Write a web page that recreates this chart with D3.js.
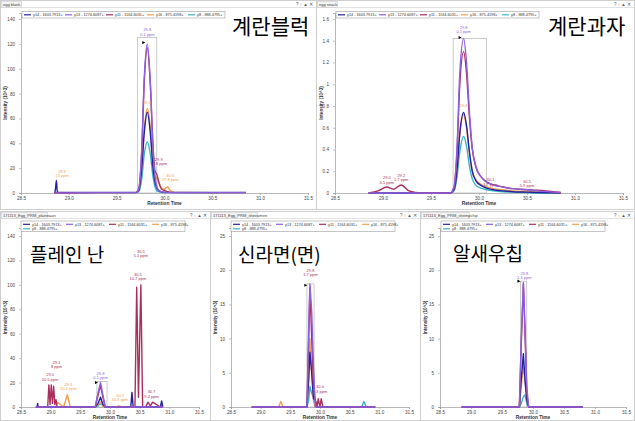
<!DOCTYPE html>
<html>
<head>
<meta charset="utf-8">
<script src="https://cdn.jsdelivr.net/npm/d3@7"></script>
<style>
  body { margin: 0; background: #fff; }
  svg { display: block; font-family: "Liberation Sans", Arial, sans-serif; }
</style>
</head>
<body>
<svg id="chart" width="635" height="421"></svg>
<script>
// transitions (precursor -> fragment ions) shown in every panel
const seriesNames = ['y14 - 1603.7913+', 'y13 - 1274.6087+', 'y11 - 1164.6031+', 'y16 - 875.4198+', 'y8 - 888.4795+'];
const seriesColors = ['#23229c', '#8b5fe0', '#a92f5c', '#f2a04e', '#3bb3c9'];
const xTicks = [28.5, 29.0, 29.5, 30.0, 30.5, 31.0, 31.5];

// 계란블럭 (egg blank)
const blankRt  = [28.85, 28.86, 28.87, 28.88, 28.9, 29.3, 29.7, 29.73, 29.76, 29.79, 29.82, 29.85, 29.88, 29.9, 29.92, 29.94, 29.97, 30.0, 30.03, 30.06, 30.1, 30.5, 30.85];
const blankY14 = [0, 3, 10, 1, 0.5, 0.5, 0.5, 2, 18, 50, 65, 50, 20, 9, 4, 2, 1, 0.5, 0.5, 0.5, 0.5, 0.5, 0.5];
const blankY13 = [0, 0, 0, 0, 0, 0.3, 0.3, 3, 32, 95, 120, 92, 36, 14, 5, 2, 1, 0.5, 0.3, 0.3, 0.3, 0.3, 0.3];
const blankY11 = [0, 0, 0, 0, 0, 0.3, 0.3, 3, 30, 92, 117, 90, 38, 18, 15, 9, 3, 2, 1, 0.5, 0.3, 0.3, 0.3];
const blankY16 = [0, 0, 0, 0, 0, 0.3, 0.3, 2, 18, 52, 68, 54, 24, 14, 12, 8, 4, 3, 5, 2, 0.5, 0.3, 0.3];
const blankY8  = [0, 0, 0, 0, 0, 0.2, 0.2, 1, 10, 32, 41, 32, 13, 5, 2, 1, 0.5, 0.3, 0.3, 0.3, 0.3, 0.2, 0.2];
const blankYTicks = [0, 20, 40, 60, 80, 100, 120, 140];

// 계란과자 (egg snack)
const snackRt  = [28.85, 28.95, 29.04, 29.11, 29.19, 29.27, 29.4, 29.7, 29.74, 29.77, 29.8, 29.84, 29.87, 29.9, 29.93, 29.97, 30.02, 30.08, 30.15, 30.25, 30.35, 30.5, 30.6, 30.85];
const snackY14 = [0, 0, 0, 0, 0, 0, 0, 0, 0.03, 0.2, 0.55, 0.74, 0.62, 0.38, 0.2, 0.11, 0.07, 0.045, 0.03, 0.02, 0.012, 0.008, 0.005, 0];
const snackY13 = [0, 0, 0, 0, 0, 0, 0, 0, 0.06, 0.4, 1.1, 1.42, 1.2, 0.75, 0.42, 0.24, 0.15, 0.1, 0.075, 0.055, 0.04, 0.03, 0.02, 0.005];
const snackY11 = [0, 0.02, 0.055, 0.035, 0.074, 0.02, 0, 0, 0.05, 0.36, 1.0, 1.3, 1.1, 0.7, 0.4, 0.23, 0.15, 0.1, 0.075, 0.055, 0.04, 0.03, 0.025, 0.005];
const snackY16 = [0, 0, 0, 0, 0, 0, 0, 0, 0.03, 0.2, 0.54, 0.72, 0.6, 0.37, 0.2, 0.12, 0.08, 0.055, 0.04, 0.03, 0.02, 0.015, 0.01, 0];
const snackY8  = [0, 0, 0, 0, 0, 0, 0, 0, 0.02, 0.14, 0.38, 0.52, 0.43, 0.25, 0.13, 0.07, 0.045, 0.03, 0.02, 0.012, 0.008, 0.005, 0, 0];
const snackYTicks = [0, 0.2, 0.4, 0.6, 0.8, 1, 1.2, 1.4, 1.6];

// 플레인 난 (plain naan)
const naanRt  = [28.75, 28.77, 28.78, 28.79, 28.95, 28.97, 28.99, 29.01, 29.03, 29.05, 29.07, 29.09, 29.11, 29.22, 29.28, 29.33, 29.75, 29.8, 29.84, 29.88, 29.92, 30.1, 30.15, 30.2, 30.35, 30.37, 30.39, 30.42, 30.45, 30.48, 30.5, 30.52, 30.55, 30.6, 30.64, 30.68, 30.72, 30.85, 30.87, 30.89];
const naanY14 = [0, 0, 3, 0, 0, 0, 0, 0, 0, 0, 0, 0, 0, 0, 0, 0, 0, 3, 8, 2, 0, 0, 0, 0, 0, 12, 0, 0, 0, 0, 0, 0, 0, 0, 0, 0, 0, 0, 5, 0];
const naanY13 = [0, 0, 0, 0, 0, 0, 0, 0, 0, 0, 0, 0, 0, 0, 0, 0, 0, 12, 20, 10, 0, 0, 0, 0, 0, 0, 0, 0, 0, 0, 0, 0, 0, 0, 0, 0, 0, 0, 0, 0];
const naanY11 = [0, 0, 0, 0, 0, 18, 2, 18, 3, 17, 2, 6, 0, 0, 0, 0, 0, 10, 18, 8, 0, 0, 0, 0, 0, 0, 0, 0, 98, 8, 55, 100, 0, 0, 4, 1, 4, 0, 0, 0];
const naanY16 = [0, 0, 0, 0, 0, 0, 0, 0, 0, 0, 0, 0, 4, 0, 10, 0, 0, 2, 4, 1, 0, 0, 1, 0, 0, 0, 0, 0, 0, 0, 0, 0, 0, 0, 0, 0, 0, 0, 0, 0];
const naanY8  = [0, 0, 0, 0, 0, 0, 0, 0, 0, 0, 0, 0, 0, 0, 0, 0, 0, 1, 3, 1, 0, 0, 0, 0, 0, 0, 0, 0, 0, 0, 0, 0, 0, 0, 0, 0, 0, 0, 0, 0];

// 신라면(면) (ramen noodle)
const ramenRt  = [28.85, 29.3, 29.34, 29.38, 29.75, 29.78, 29.81, 29.83, 29.86, 29.89, 29.92, 29.95, 29.97, 30.0, 30.02, 30.05, 30.7, 30.74, 30.78, 30.93];
const ramenY14 = [0, 0, 0, 0, 0, 0, 4, 8, 5, 1.2, 1, 0, 0, 0, 0, 0, 0, 0, 0, 0];
const ramenY13 = [0, 0, 0, 0, 0, 0, 12, 18, 14, 6, 0, 0, 0, 0, 0, 0, 0, 0, 0, 0];
const ramenY11 = [0, 0, 0, 0, 0, 0, 10, 17.5, 10, 3, 1, 0, 1.2, 0, 1.2, 0, 0, 0, 0, 0];
const ramenY16 = [0, 0, 0.8, 0, 0, 0, 6, 10, 5, 1, 0, 0, 0, 0, 0, 0, 0, 0, 0, 0];
const ramenY8  = [0, 0, 0, 0, 0, 0, 1, 3, 2, 1.5, 0.5, 0, 0, 0, 0, 0, 0, 0.8, 0, 0];

// 알새우칩 (shrimp chip)
const chipsRt  = [28.85, 29.78, 29.81, 29.845, 29.87, 29.9, 29.93, 30.8];
const chipsY14 = [0, 0, 4, 7.8, 4, 1, 0, 0];
const chipsY13 = [0, 0, 10, 18.2, 12, 3, 0, 0];
const chipsY11 = [0, 0, 9, 18, 11, 2, 0, 0];
const chipsY16 = [0, 0, 3, 6, 4, 1, 0, 0];
const chipsY8  = [0, 0, 0.5, 1.5, 1.8, 0.5, 0, 0];
const smallYTicks = [0, 5, 10, 15, 20, 25];

// peak labels: [rt, intensity, line1, line2, series index]
const blankNotes = [[29.82, 126, '29.8', '0.1 ppm', 1], [29.82, 71, '29.8', '', 3], [29.94, 22, '29.9', '15.6 ppm', 2], [30.06, 9, '30.0', '17.8 ppm', 3], [28.93, 12, '28.9', '13 ppm', 3]];
const snackNotes = [[29.84, 1.46, '29.8', '0.1 ppm', 1], [29.84, 0.78, '29.8', '', 3], [29.04, 0.08, '29.0', '4.5 ppm', 2], [29.19, 0.1, '29.2', '1.7 ppm', 2], [30.12, 0.06, '30.1', '3.7 ppm', 2], [30.5, 0.05, '30.5', '5.9 ppm', 2]];
const naanNotes = [[29.84, 22, '29.8', '0.1 ppm', 1], [28.99, 21, '29.0', '10.5 ppm', 2], [29.1, 31, '29.1', '8 ppm', 2], [29.3, 13, '29.3', '10.1 ppm', 3], [30.17, 4, '30.2', '10.9 ppm', 3], [30.47, 103, '30.5', '10.7 ppm', 2], [30.52, 122, '30.5', '5.1 ppm', 2], [30.7, 7, '30.7', '9.4 ppm', 2]];
const ramenNotes = [[29.84, 19, '29.8', '1.7 ppm', 2], [30.0, 2, '30.0', '3.3 ppm', 2]];
const chipsNotes = [[29.86, 18.6, '29.8', '1.1 ppm', 1]];

const svg = d3.select('#chart');

const drawPanel = (p) => {
  const g = svg.append('g');

  // window frame + title bar
  g.append('rect')
    .attr('x', p.fx + 0.5).attr('y', p.fy + 0.5)
    .attr('width', p.fw - 1).attr('height', p.fh - 1)
    .attr('fill', '#fff').attr('stroke', '#cfcfcf');
  g.append('line')
    .attr('x1', p.fx + 1).attr('x2', p.fx + p.fw - 1)
    .attr('y1', p.fy + 7.5).attr('y2', p.fy + 7.5)
    .attr('stroke', '#e2e2e2');
  g.append('rect')
    .attr('x', p.fx + 1.5).attr('y', p.fy + 1.5)
    .attr('width', p.tabW).attr('height', 6)
    .attr('fill', '#f4f4f4').attr('stroke', '#c4c4c4').attr('stroke-width', 0.5);
  g.append('text')
    .attr('x', p.fx + 3).attr('y', p.fy + 6)
    .attr('font-size', 4).attr('fill', '#444')
    .text(p.tab);
  g.append('text')
    .attr('x', p.fx + p.fw - 4).attr('y', p.fy + 6)
    .attr('text-anchor', 'end')
    .attr('font-size', 4.5).attr('fill', '#555')
    .text('? \u2191 \u25B2 \u2715');

  const x = d3.scaleLinear().domain([28.5, 31.5]).range([p.x0, p.x1]);
  const y = d3.scaleLinear().domain([0, p.yTicks[p.yTicks.length - 1]]).range([p.y0, p.y1]);
  y.domain([0, y.invert(p.top)]).range([p.y0, p.top]);

  // axes
  const xAxis = g.append('g')
    .attr('transform', `translate(0,${p.y0})`)
    .call(d3.axisBottom(x).tickValues(xTicks).tickFormat(d3.format('.1f')).tickSize(2).tickPadding(1.5));
  const yAxis = g.append('g')
    .attr('transform', `translate(${p.x0},0)`)
    .call(d3.axisLeft(y).tickValues(p.yTicks).tickFormat(d => d).tickSize(2).tickPadding(4));
  [xAxis, yAxis].forEach(a => {
    a.select('.domain').attr('stroke', '#9a9a9a').attr('stroke-width', 0.7);
    a.selectAll('.tick line').attr('stroke', '#9a9a9a').attr('stroke-width', 0.6);
    a.selectAll('.tick text').attr('font-size', 4.6).attr('fill', '#444').attr('font-family', '"Liberation Sans", Arial, sans-serif');
  });

  g.append('text')
    .attr('x', (p.x0 + p.x1) / 2).attr('y', p.y0 + 12)
    .attr('text-anchor', 'middle')
    .attr('font-size', 4.8).attr('font-weight', 'bold').attr('fill', '#333')
    .text('Retention Time');
  g.append('text')
    .attr('transform', `translate(${p.fx + 7},${(p.y0 + p.top) / 2}) rotate(-90)`)
    .attr('text-anchor', 'middle')
    .attr('font-size', 4.6).attr('font-weight', 'bold').attr('fill', '#333')
    .text('Intensity (10^3)');

  // integration window
  g.append('rect')
    .attr('x', x(p.box[0])).attr('y', y(p.box[2]))
    .attr('width', x(p.box[1]) - x(p.box[0]))
    .attr('height', y(0) - y(p.box[2]))
    .attr('fill', 'none').attr('stroke', '#a8a8a8').attr('stroke-width', 0.6);

  // traces, drawn teal first and violet last
  const line = d3.line()
    .x(d => x(d[0]))
    .y(d => y(d[1]))
    .curve(p.curve);
  [4, 3, 0, 2, 1].forEach(k => {
    g.append('path')
      .datum(d3.zip(p.rt, p.series[k]))
      .attr('d', line)
      .attr('fill', 'none')
      .attr('stroke', seriesColors[k])
      .attr('stroke-width', p.lw)
      .attr('stroke-linejoin', 'round');
  });

  // apex marker
  g.append('path')
    .attr('d', `M${x(p.marker[0]) - 5},${y(p.marker[1]) - 1.6}l3,1.6l-3,1.6z`)
    .attr('fill', '#000');

  // peak labels
  p.notes.forEach(n => {
    const t = g.append('text')
      .attr('x', x(n[0])).attr('y', y(n[1]) - (n[3] ? 5 : 1))
      .attr('text-anchor', 'middle')
      .attr('font-size', 4).attr('fill', seriesColors[n[4]]);
    t.append('tspan').text(n[2]);
    if (n[3]) t.append('tspan').attr('x', x(n[0])).attr('dy', 4.2).text(n[3]);
  });

  // legend
  const lg = g.append('g').attr('transform', `translate(${p.lx},${p.ly})`);
  lg.append('rect')
    .attr('width', p.lw2).attr('height', p.legendRows === 1 ? 6.5 : 10.5)
    .attr('fill', '#fff').attr('stroke', '#8a8a8a').attr('stroke-width', 0.5);
  seriesNames.forEach((name, k) => {
    const col = k % p.perRow;
    const row = Math.floor(k / p.perRow);
    const item = lg.append('g').attr('transform', `translate(${2 + col * p.step},${3.3 + row * 4.5})`);
    item.append('line').attr('x1', 0).attr('x2', 7).attr('stroke', seriesColors[k]).attr('stroke-width', 1.2);
    item.append('text').attr('x', 9).attr('y', 1.4).attr('font-size', 3.8).attr('fill', '#333').text(name);
  });

  // sample name
  g.append('text')
    .attr('x', p.tx).attr('y', p.ty)
    .attr('font-family', '"Noto Sans CJK KR", sans-serif')
    .attr('font-size', p.ts).attr('fill', '#000')
    .text(p.title);
};

drawPanel({
  fx: 0, fy: 0, fw: 317, fh: 210, tab: 'egg blank', tabW: 20,
  x0: 21, x1: 308, y0: 193, y1: 19, top: 13, yTicks: blankYTicks,
  rt: blankRt, series: [blankY14, blankY13, blankY11, blankY16, blankY8],
  curve: d3.curveMonotoneX, lw: 1.4,
  box: [29.72, 29.92, 125], marker: [29.82, 121], notes: blankNotes,
  lx: 22, ly: 11.5, lw2: 203, legendRows: 1, perRow: 5, step: 41,
  title: '계란블럭', tx: 232, ty: 34, ts: 21
});
drawPanel({
  fx: 316, fy: 0, fw: 319, fh: 210, tab: 'egg snack', tabW: 20,
  x0: 335, x1: 623, y0: 193, y1: 19, top: 13, yTicks: snackYTicks,
  rt: snackRt, series: [snackY14, snackY13, snackY11, snackY16, snackY8],
  curve: d3.curveMonotoneX, lw: 1.4,
  box: [29.73, 30.08, 1.42], marker: [29.84, 1.43], notes: snackNotes,
  lx: 336, ly: 11.5, lw2: 203, legendRows: 1, perRow: 5, step: 41,
  title: '계란과자', tx: 548, ty: 34, ts: 21
});
drawPanel({
  fx: 0, fy: 211, fw: 211, fh: 210, tab: '171113_Egg_PRM_plainnaan', tabW: 46,
  x0: 21, x1: 199, y0: 407, y1: 236, top: 228, yTicks: blankYTicks,
  rt: naanRt, series: [naanY14, naanY13, naanY11, naanY16, naanY8],
  curve: d3.curveLinear, lw: 1.4,
  box: [29.78, 29.95, 21], marker: [29.83, 20], notes: naanNotes,
  lx: 21, ly: 221, lw2: 164, legendRows: 2, perRow: 4, step: 43,
  title: '플레인 난', tx: 30, ty: 262, ts: 19
});
drawPanel({
  fx: 210, fy: 211, fw: 211, fh: 210, tab: '171113_Egg_PRM_shinramen', tabW: 46,
  x0: 231, x1: 409, y0: 407, y1: 236, top: 228, yTicks: smallYTicks,
  rt: ramenRt, series: [ramenY14, ramenY13, ramenY11, ramenY16, ramenY8],
  curve: d3.curveLinear, lw: 1.4,
  box: [29.78, 29.9, 18], marker: [29.82, 17.8], notes: ramenNotes,
  lx: 231, ly: 221, lw2: 164, legendRows: 2, perRow: 4, step: 43,
  title: '신라면(면)', tx: 238, ty: 262, ts: 19
});
drawPanel({
  fx: 420, fy: 211, fw: 215, fh: 210, tab: '171113_Egg_PRM_shrimpchip', tabW: 48,
  x0: 440, x1: 626, y0: 407, y1: 236, top: 228, yTicks: smallYTicks,
  rt: chipsRt, series: [chipsY14, chipsY13, chipsY11, chipsY16, chipsY8],
  curve: d3.curveLinear, lw: 1.4,
  box: [29.8, 29.9, 18.4], marker: [29.83, 18.4], notes: chipsNotes,
  lx: 441, ly: 221, lw2: 164, legendRows: 2, perRow: 4, step: 43,
  title: '알새우칩', tx: 453, ty: 261, ts: 19
});
</script>
</body>
</html>
